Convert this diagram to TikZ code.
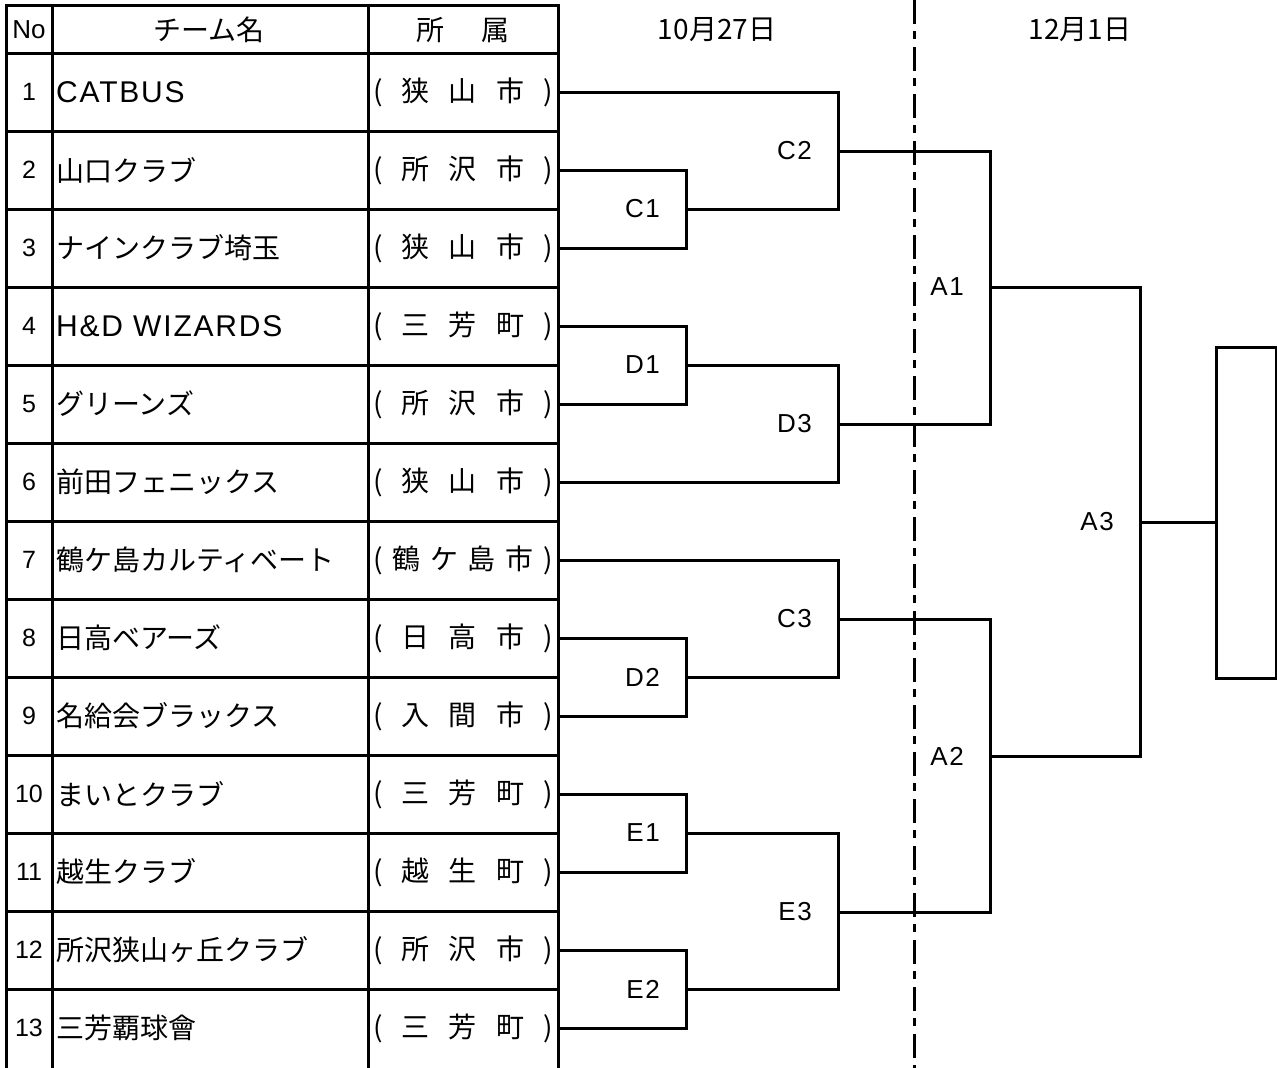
\documentclass[tikz,border=0pt]{standalone}
\usepackage{fontspec}
\setmainfont{Noto Sans CJK JP}
\newfontfamily\latinfont[LetterSpace=6]{Liberation Sans}
\newfontfamily\numfont{Liberation Sans}
\usetikzlibrary{positioning}

% spread the town name over the cell, one \hfil between each character
\def\spreadaff#1{\expandafter\spreadnext#1\relax}
\def\spreadnext#1#2\relax{#1\ifx\relax#2\relax\else\hfil\spreadnext#2\relax\fi}
\newcommand\affbox[1]{\makebox[180pt][s]{(\hfil\spreadaff{#1}\hfil)}}
\newcommand\latinname{\latinfont\fontsize{30}{32}\selectfont}

\begin{document}
\begin{tikzpicture}[x=1pt, y=-1pt,
  grid/.style={line width=3pt},
  bracket/.style={line width=3pt},
  daydiv/.style={line width=3pt, dash pattern=on 24pt off 7pt on 8pt off 8pt},
  head/.style={inner sep=0, font=\fontsize{28}{30}\selectfont},
  num/.style={inner sep=0, font=\numfont\fontsize{25}{27}\selectfont},
  team/.style={anchor=west, inner sep=0, font=\fontsize{28}{30}\selectfont},
  aff/.style={inner sep=0, minimum width=190pt, font=\fontsize{28}{30}\selectfont},
  lbl/.style={inner sep=0, font=\latinfont\fontsize{26}{28}\selectfont}]

\useasboundingbox (0,0) rectangle (1277,1068);

% table
\draw[grid] (6,5) rectangle (558,1071);
\foreach \i in {0,...,12}
  \draw[grid] (6,53+78*\i) -- (558,53+78*\i);
\foreach \x in {52,368}
  \draw[grid] (\x,5) -- (\x,1071);

\node[head, font=\numfont\fontsize{26}{28}\selectfont] (h-no) at (29,30) {No};
\node[head] (h-team) at (209,30) {チーム名};
\node[head] (h-aff) at (463,30) {所\hspace{1.3em}属};
\node[head, font=\fontsize{28}{30}\selectfont] (h-day1) at (717,30) {10月27日};
\node[head, font=\fontsize{28}{30}\selectfont] (h-day2) at (1080,30) {12月1日};

\foreach \tn/\ta [count=\i] in {{\latinname CATBUS}/狭山市, 山口クラブ/所沢市,
    ナインクラブ埼玉/狭山市, {\latinname H\&D WIZARDS}/三芳町, グリーンズ/所沢市,
    前田フェニックス/狭山市, 鶴ケ島カルティベート/鶴ケ島市, 日高ベアーズ/日高市,
    名給会ブラックス/入間市, まいとクラブ/三芳町, 越生クラブ/越生町,
    所沢狭山ヶ丘クラブ/所沢市, 三芳覇球會/三芳町} {
  \node[num] (no-\i) at (29,14+78*\i) {\i};
  \node[team] (team-\i) at (56,14+78*\i) {\tn};
  \node[aff] (aff-\i) at (463,14+78*\i) {\affbox{\ta}};
}

% day divider
\coordinate (div-top) at (914,0);
\coordinate (div-bot) at (914,1068);
\draw[daydiv] (div-top) -- (div-bot);

% matches
\coordinate (C1) at (686,209);
\coordinate (C2) at (838,151);
\coordinate (D1) at (686,365);
\coordinate (D3) at (838,424);
\coordinate (A1) at (990,287);
\coordinate (D2) at (686,677);
\coordinate (C3) at (838,619);
\coordinate (E1) at (686,833);
\coordinate (E2) at (686,989);
\coordinate (E3) at (838,912);
\coordinate (A2) at (990,756);
\coordinate (A3) at (1140,522);

\draw[bracket] (aff-2.east) -| (C1) |- (aff-3.east);
\draw[bracket] (aff-1.east) -| (C2) |- (C1);
\draw[bracket] (aff-4.east) -| (D1) |- (aff-5.east);
\draw[bracket] (D1) -| (D3) |- (aff-6.east);
\draw[bracket] (C2) -| (A1) |- (D3);
\draw[bracket] (aff-8.east) -| (D2) |- (aff-9.east);
\draw[bracket] (aff-7.east) -| (C3) |- (D2);
\draw[bracket] (aff-10.east) -| (E1) |- (aff-11.east);
\draw[bracket] (aff-12.east) -| (E2) |- (aff-13.east);
\draw[bracket] (E1) -| (E3) |- (E2);
\draw[bracket] (C3) -| (A2) |- (E3);
\draw[bracket] (A1) -| (A3) |- (A2);

\node[draw, line width=3pt, inner sep=0, minimum width=60pt,
  minimum height=331pt] (final) at (1246,512.5) {};
\draw[bracket] (A3) -- (A3 -| final.west);

\foreach \m in {C1,C2,D1,D3,A1,D2,C3,E1,E2,E3,A2,A3}
  \node[lbl, left=26pt of \m] (lbl-\m) {\m};

\end{tikzpicture}
\end{document}
